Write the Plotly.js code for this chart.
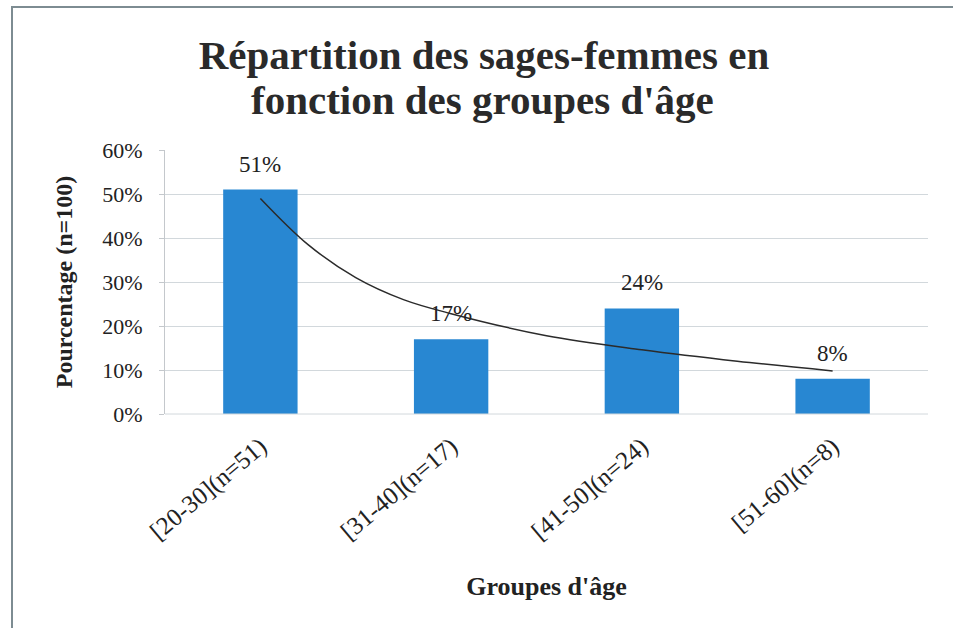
<!DOCTYPE html>
<html>
<head>
<meta charset="utf-8">
<script src="https://cdn.plot.ly/plotly-3.0.1.min.js"></script>
<style>
html,body{margin:0;padding:0;background:#fff;}
#chart{width:953px;height:628px;}
</style>
</head>
<body>
<div id="chart"></div>
<script>
// Data
const titleLines = ["Répartition des sages-femmes en", "fonction des groupes d'âge"];
const categories = ["[20-30](n=51)", "[31-40](n=17)", "[41-50](n=24)", "[51-60](n=8)"];
const percentages = [51, 17, 24, 8];
const valueLabels = ["51%", "17%", "24%", "8%"];
// Trend curve, x in category index units
const trendX = [0, 0.25, 0.5, 0.75, 1, 1.5, 2, 2.5, 3];
const trendY = [49, 38.5, 31, 26, 22.8, 17.8, 14.6, 12, 9.8];
const yTickVals = [0, 10, 20, 30, 40, 50, 60];
const yTickText = ["0%", "10%", "20%", "30%", "40%", "50%", "60%"];

const catIdx = categories.map((c, i) => i);
const serif = "Liberation Serif, Times New Roman, serif";

const traces = [
  {
    type: "bar",
    x: catIdx,
    y: percentages,
    marker: {color: "#2887d2"},
    width: 0.39,
    hoverinfo: "skip",
    showlegend: false
  },
  {
    type: "scatter",
    mode: "lines",
    x: trendX,
    y: trendY,
    line: {color: "#2b2b2b", width: 1.5, shape: "spline"},
    hoverinfo: "skip",
    showlegend: false
  }
];

const L = 165, R = 928, T = 150, B = 414;
const px = (v) => (v - L) / (R - L);
const py = (v) => (B - v) / (B - T);

const annotations = catIdx.map((i) => ({
  x: i, y: percentages[i], xref: "x", yref: "y",
  text: valueLabels[i], showarrow: false,
  yanchor: "bottom", yshift: 11,
  font: {family: serif, size: 23, color: "#222"}
}));
annotations.push({
  x: px(482.5), y: py(100), xref: "paper", yref: "paper",
  xanchor: "center", yanchor: "middle", showarrow: false,
  text: titleLines[1],
  font: {family: serif, size: 41, color: "#2a2a2a", weight: "bold"}
});

const layout = {
  width: 953, height: 628,
  margin: {l: L, r: 953 - R, t: T, b: 628 - B, pad: 0},
  paper_bgcolor: "#fff", plot_bgcolor: "#fff",
  title: {
    text: titleLines[0],
    font: {family: serif, size: 41, color: "#2a2a2a", weight: "bold"},
    x: 484 / 953, xref: "container", xanchor: "center",
    y: 1 - 55 / 628, yref: "container", yanchor: "middle"
  },
  xaxis: {
    range: [-0.5, 3.5],
    tickvals: catIdx, ticktext: categories,
    tickangle: -40,
    tickfont: {family: serif, size: 25, color: "#222"},
    ticklabelstandoff: 12,
    showgrid: false, zeroline: false,
    showline: false, ticks: "",
    title: {text: "Groupes d'âge", font: {family: serif, size: 26, color: "#222", weight: "bold"}, standoff: 32},
    fixedrange: true
  },
  yaxis: {
    range: [0, 60],
    tickvals: yTickVals, ticktext: yTickText,
    tickfont: {family: serif, size: 22, color: "#222"},
    showgrid: true, gridcolor: "#d2d8dc", gridwidth: 1,
    zeroline: false,
    showline: true, linecolor: "#c4c8cc", linewidth: 1,
    ticks: "outside", ticklen: 5, tickcolor: "#c4c8cc",
    ticklabelstandoff: 12,
    title: {text: "Pourcentage (n=100)", font: {family: serif, size: 24, color: "#222", weight: "bold"}, standoff: 22},
    fixedrange: true
  },
  annotations: annotations,
  shapes: [
    {type: "line", xref: "paper", yref: "paper", x0: px(11), x1: px(953), y0: py(7), y1: py(7), line: {color: "#7d8c92", width: 2}},
    {type: "line", xref: "paper", yref: "paper", x0: px(12), x1: px(12), y0: py(7), y1: py(628), line: {color: "#7d8c92", width: 2}},
    {type: "line", xref: "paper", yref: "paper", x0: 0, x1: 1, y0: 0, y1: 0, line: {color: "#d2d8dc", width: 1}}
  ]
};

Plotly.newPlot("chart", traces, layout, {staticPlot: true, displayModeBar: false});
</script>
</body>
</html>
